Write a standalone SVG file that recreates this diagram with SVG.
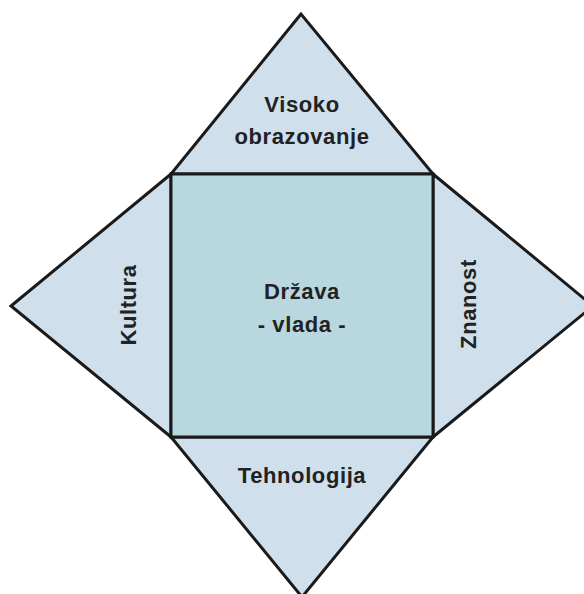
<svg xmlns="http://www.w3.org/2000/svg" width="584" height="594" viewBox="0 0 584 594">
<style>
.tri{fill:#cfdfec;stroke:#1a1a1a;stroke-width:3;stroke-linejoin:miter}
.sq{fill:#b9d7df;stroke:#1a1a1a;stroke-width:3}
.lbl{font-family:"Liberation Sans",Arial,sans-serif;font-weight:bold;font-size:22px;fill:#222;text-anchor:middle;letter-spacing:0.6px}
</style>
<rect width="584" height="594" fill="#fff"/>
<g id="visoko-obrazovanje">
<polygon class="tri" points="301,14 171,174 433,174"/>
<text class="lbl" x="302" y="112">Visoko</text>
<text class="lbl" x="302" y="144">obrazovanje</text>
</g>
<g id="kultura">
<polygon class="tri" points="11,306 171,174 171,437"/>
<text class="lbl" transform="translate(136,305) rotate(-90)">Kultura</text>
</g>
<g id="znanost">
<polygon class="tri" points="593,306 433,174 433,437"/>
<text class="lbl" transform="translate(476,304) rotate(-90)">Znanost</text>
</g>
<g id="tehnologija">
<polygon class="tri" points="302,597 171,437 433,437"/>
<text class="lbl" x="302" y="483">Tehnologija</text>
</g>
<g id="drzava">
<rect class="sq" x="171" y="174" width="262" height="263"/>
<text class="lbl" x="302" y="299">Država</text>
<text class="lbl" x="302" y="332">- vlada -</text>
</g>
<g id="connectors"/>
</svg>
